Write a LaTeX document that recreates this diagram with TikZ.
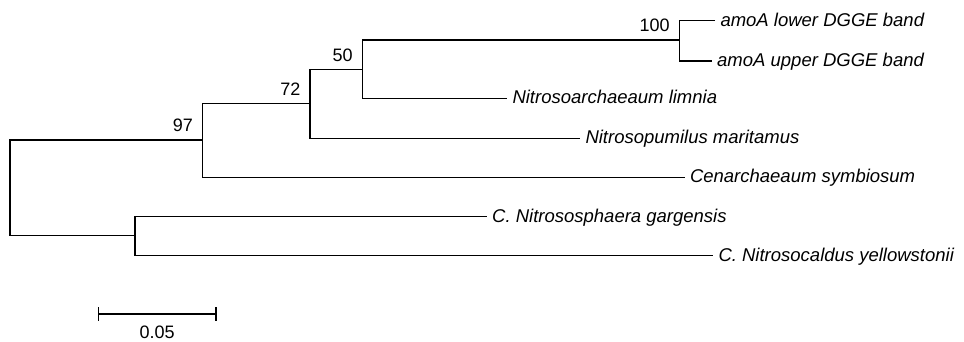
\documentclass[tikz,border=0pt]{standalone}
\usepackage{fontspec}
\setmainfont{Liberation Sans}
\begin{document}
\begin{tikzpicture}[x=1pt,y=-1pt,
  branch/.style={line width=1.45pt},
  taxon/.style={anchor=west, inner xsep=5.5pt, inner ysep=0pt, outer sep=0pt,
    font=\fontsize{18.5}{21}\selectfont\itshape, text height=13.2pt, text depth=2.2pt},
  boot/.style={anchor=base east, inner sep=0pt, font=\fontsize{18}{21}\selectfont,
    xshift=-9.5pt, yshift=8.3pt}]
\useasboundingbox (0,0) rectangle (964,341);

% internal nodes of the tree
\coordinate (r)    at (10,188);
\coordinate (n97)  at (202.7,140);
\coordinate (nC)   at (135,235.7);
\coordinate (n72)  at (310,103.3);
\coordinate (n50)  at (362.3,69.3);
\coordinate (n100) at (679.3,40);

% leaves
\node[taxon] (t1) at (715,20.7)   {amoA lower DGGE band};
\node[taxon] (t2) at (711.7,61)   {amoA upper DGGE band};
\node[taxon] (t3) at (507,98.3)   {Nitrosoarchaeaum limnia};
\node[taxon] (t4) at (580,138.3)  {Nitrosopumilus maritamus};
\node[taxon] (t5) at (684.5,177.3){Cenarchaeaum symbiosum};
\node[taxon] (t6) at (486.7,216.7){C. Nitrososphaera gargensis};
\node[taxon] (t7) at (713,255.7)  {C. Nitrosocaldus yellowstonii};

% branches
\draw[branch] (n97) -| (r) |- (nC);
\draw[branch] (n72) -| (n97) |- (t5.west);
\draw[branch] (n50) -| (n72) |- (t4.west);
\draw[branch] (n100) -| (n50) |- (t3.west);
\draw[branch] (t1.west) -| (n100) |- (t2.west);
\draw[branch] (t6.west) -| (nC) |- (t7.west);

% bootstrap values
\node[boot] (b97)  at (n97)  {97};
\node[boot] (b72)  at (n72)  {72};
\node[boot] (b50)  at (n50)  {50};
\node[boot] (b100) at (n100) {100};

% scale bar
\coordinate (s1) at (98.3,314);
\coordinate (s2) at (216,314);
\draw[branch] (s1) -- (s2);
\draw[branch] ([yshift=7pt]s1) -- ([yshift=-7pt]s1);
\draw[branch] ([yshift=7pt]s2) -- ([yshift=-7pt]s2);
\node[anchor=base, inner sep=0pt, font=\fontsize{18}{21}\selectfont] (sl) at (157.2,338.3) {0.05};
\end{tikzpicture}
\end{document}
